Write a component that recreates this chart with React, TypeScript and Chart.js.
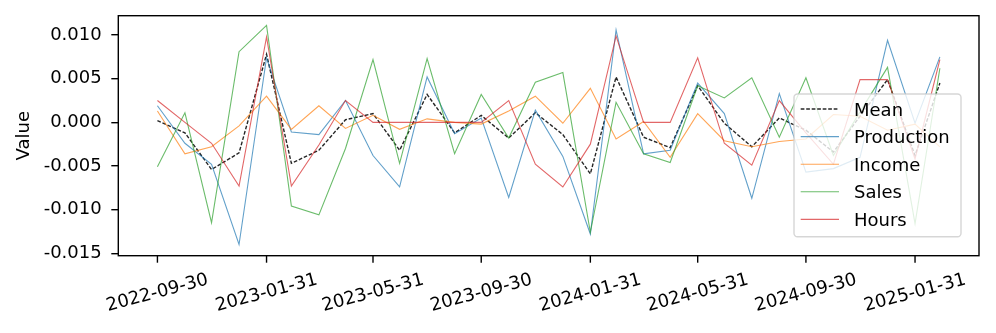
import React, { useEffect, useRef } from "react";
import { Chart, registerables } from "chart.js";
Chart.register(...registerables);

const DATES = [
  "2022-09-30", "2022-10-31", "2022-11-30", "2022-12-31",
  "2023-01-31", "2023-02-28", "2023-03-31", "2023-04-30", "2023-05-31", "2023-06-30",
  "2023-07-31", "2023-08-31", "2023-09-30", "2023-10-31", "2023-11-30", "2023-12-31",
  "2024-01-31", "2024-02-29", "2024-03-31", "2024-04-30", "2024-05-31", "2024-06-30",
  "2024-07-31", "2024-08-31", "2024-09-30", "2024-10-31", "2024-11-30", "2024-12-31",
  "2025-01-31", "2025-02-28",
];

const MEAN = [
  0.0002, -0.0012, -0.0054, -0.0035, 0.0078, -0.0047, -0.0032, 0.0003, 0.0010, -0.0032,
  0.0032, -0.0012, 0.0008, -0.0018, 0.0011, -0.0014, -0.0059, 0.0052, -0.0017, -0.0029,
  0.0042, -0.0001, -0.0028, 0.0005, -0.0009, -0.0034, 0.0007, 0.0049, -0.0038, 0.0045,
];
const PRODUCTION = [
  0.0019, -0.0024, -0.0048, -0.0140, 0.0074, -0.0011, -0.0014, 0.0025, -0.0038, -0.0074,
  0.0052, -0.0013, 0.0005, -0.0086, 0.0014, -0.0039, -0.0128, 0.0106, -0.0036, -0.0032,
  0.0045, 0.0010, -0.0087, 0.0033, -0.0057, -0.0053, -0.0040, 0.0094, -0.0001, 0.0075,
];
const INCOME = [
  0.0013, -0.0036, -0.0028, -0.0004, 0.0030, -0.0008, 0.0019, -0.0007, 0.0008, -0.0008,
  0.0004, 0.0000, -0.0002, 0.0013, 0.0030, -0.0001, 0.0039, -0.0019, 0.0001, -0.0040,
  0.0010, -0.0021, -0.0028, -0.0022, -0.0019, 0.0009, 0.0007, -0.0009, -0.0002, -0.0028,
];
const SALES = [
  -0.0051, 0.0011, -0.0115, 0.0081, 0.0111, -0.0096, -0.0106, -0.0030, 0.0072, -0.0047,
  0.0073, -0.0036, 0.0032, -0.0018, 0.0046, 0.0057, -0.0126, 0.0023, -0.0036, -0.0046,
  0.0042, 0.0028, 0.0051, -0.0017, 0.0051, -0.0038, 0.0012, 0.0063, -0.0116, 0.0062,
];
const HOURS = [
  0.0025, 0.0000, -0.0024, -0.0073, 0.0098, -0.0073, -0.0026, 0.0025, 0.0000, 0.0000,
  0.0000, 0.0000, 0.0000, 0.0025, -0.0048, -0.0074, -0.0025, 0.0099, 0.0000, 0.0000,
  0.0074, -0.0024, -0.0049, 0.0025, -0.0012, -0.0048, 0.0049, 0.0049, -0.0042, 0.0072,
];

const SERIES_NAMES = ["Mean", "Production", "Income", "Sales", "Hours"];
const SERIES_VALUES = [MEAN, PRODUCTION, INCOME, SALES, HOURS];
const SERIES_COLORS = [
  "rgba(0,0,0,0.85)",
  "rgba(31,119,180,0.7)",
  "rgba(255,127,14,0.7)",
  "rgba(44,160,44,0.7)",
  "rgba(214,39,40,0.7)",
];
const SERIES_WIDTHS = [1.4, 1.1, 1.1, 1.1, 1.1];

const X_TICK_LABELS = [
  "2022-09-30", "2023-01-31", "2023-05-31", "2023-09-30",
  "2024-01-31", "2024-05-31", "2024-09-30", "2025-01-31",
];
const Y_TICKS = [-0.015, -0.01, -0.005, 0, 0.005, 0.01];
const Y_MIN = -0.01528;
const Y_MAX = 0.01222;
const Y_LABEL = "Value";

const FONT = '"DejaVu Sans", "Liberation Sans", sans-serif';
const DASH = [3.7, 1.8];

const toDay = (s: string) => Date.parse(s + "T00:00:00Z") / 86400000;

const decorPlugin = {
  id: "mplDecor",
  afterDatasetsDraw(chart: any) {
    const { ctx, chartArea: a } = chart;
    ctx.save();
    ctx.strokeStyle = "#000";
    ctx.lineWidth = 1.4;
    ctx.strokeRect(a.left, a.top, a.right - a.left, a.bottom - a.top);
    ctx.restore();
  },
  afterDraw(chart: any) {
    const { ctx, chartArea: a } = chart;
    const xs = chart.scales.x;
    ctx.save();
    // x tick marks and rotated labels (centered like matplotlib)
    ctx.strokeStyle = "#000";
    ctx.lineWidth = 1.4;
    ctx.fillStyle = "#000";
    ctx.font = `18px ${FONT}`;
    ctx.textAlign = "center";
    ctx.textBaseline = "middle";
    for (const lab of X_TICK_LABELS) {
      const px = xs.getPixelForValue(toDay(lab));
      ctx.beginPath();
      ctx.moveTo(px, a.bottom);
      ctx.lineTo(px, a.bottom + 7);
      ctx.stroke();
      ctx.save();
      ctx.translate(px, a.bottom + 37.3);
      ctx.rotate((-15 * Math.PI) / 180);
      ctx.fillText(lab, 0, 0);
      ctx.restore();
    }
    // legend
    const lx = 794, ly = 94, lw = 167, lh = 142.7;
    ctx.beginPath();
    (ctx as any).roundRect(lx, ly, lw, lh, 3.5);
    ctx.fillStyle = "rgba(255,255,255,0.8)";
    ctx.fill();
    ctx.strokeStyle = "rgba(204,204,204,0.8)";
    ctx.lineWidth = 1.4;
    ctx.stroke();
    ctx.font = `18px ${FONT}`;
    ctx.textAlign = "left";
    ctx.textBaseline = "alphabetic";
    SERIES_NAMES.forEach((name, i) => {
      const y = 109 + i * 27.6;
      ctx.beginPath();
      ctx.strokeStyle = SERIES_COLORS[i];
      ctx.lineWidth = SERIES_WIDTHS[i];
      ctx.setLineDash(i === 0 ? DASH : []);
      ctx.moveTo(800.7, y);
      ctx.lineTo(839, y);
      ctx.stroke();
      ctx.setLineDash([]);
      ctx.fillStyle = "#000";
      ctx.fillText(name, 854, y + 6.5);
    });
    ctx.restore();
  },
};

export default function App() {
  const canvasRef = useRef<HTMLCanvasElement | null>(null);

  useEffect(() => {
    const canvas = canvasRef.current;
    if (!canvas) return;
    const xs = DATES.map(toDay);
    const span = xs[xs.length - 1] - xs[0];
    const datasets = SERIES_NAMES.map((name, i) => ({
      label: name,
      data: SERIES_VALUES[i].map((v, j) => ({ x: xs[j], y: v })),
      borderColor: SERIES_COLORS[i],
      backgroundColor: SERIES_COLORS[i],
      borderWidth: SERIES_WIDTHS[i],
      borderDash: i === 0 ? DASH : [],
      pointRadius: 0,
      tension: 0,
      fill: false,
      order: SERIES_NAMES.length - 1 - i,
    }));
    const chart = new Chart(canvas, {
      type: "line",
      data: { datasets },
      options: {
        animation: false,
        responsive: false,
        devicePixelRatio: 1,
        events: [],
        layout: { padding: { top: 15.7, right: 17, left: 0, bottom: 0 } },
        plugins: { legend: { display: false }, tooltip: { enabled: false } },
        scales: {
          x: {
            type: "linear",
            min: xs[0] - 0.05 * span,
            max: xs[xs.length - 1] + 0.05 * span,
            grid: { display: false },
            border: { display: false },
            ticks: { display: false },
            afterFit: (s: any) => {
              s.height = 77.3;
              s.paddingLeft = 0;
              s.paddingRight = 0;
            },
          },
          y: {
            type: "linear",
            min: Y_MIN,
            max: Y_MAX,
            afterBuildTicks: (s: any) => {
              s.ticks = Y_TICKS.map((v) => ({ value: v }));
            },
            afterFit: (s: any) => {
              s.width = 118.3;
              s.paddingTop = 0;
              s.paddingBottom = 0;
            },
            grid: {
              display: true,
              drawOnChartArea: false,
              drawTicks: true,
              tickLength: 7,
              color: "#000",
              lineWidth: 1.4,
            },
            border: { display: false },
            ticks: {
              color: "#000",
              padding: 9.6,
              font: { family: FONT, size: 18 },
              callback: (v: any) => Number(v).toFixed(3),
            },
            title: {
              display: true,
              text: Y_LABEL,
              color: "#000",
              font: { family: FONT, size: 18 },
              padding: { top: 13.7, bottom: 0 },
            },
          },
        },
      },
      plugins: [decorPlugin],
    } as any);
    return () => chart.destroy();
  }, []);

  return (
    <div style={{ position: "absolute", left: 0, top: 0, width: 996, height: 333, background: "#fff" }}>
      <canvas ref={canvasRef} width={996} height={333} style={{ display: "block" }} />
    </div>
  );
}
